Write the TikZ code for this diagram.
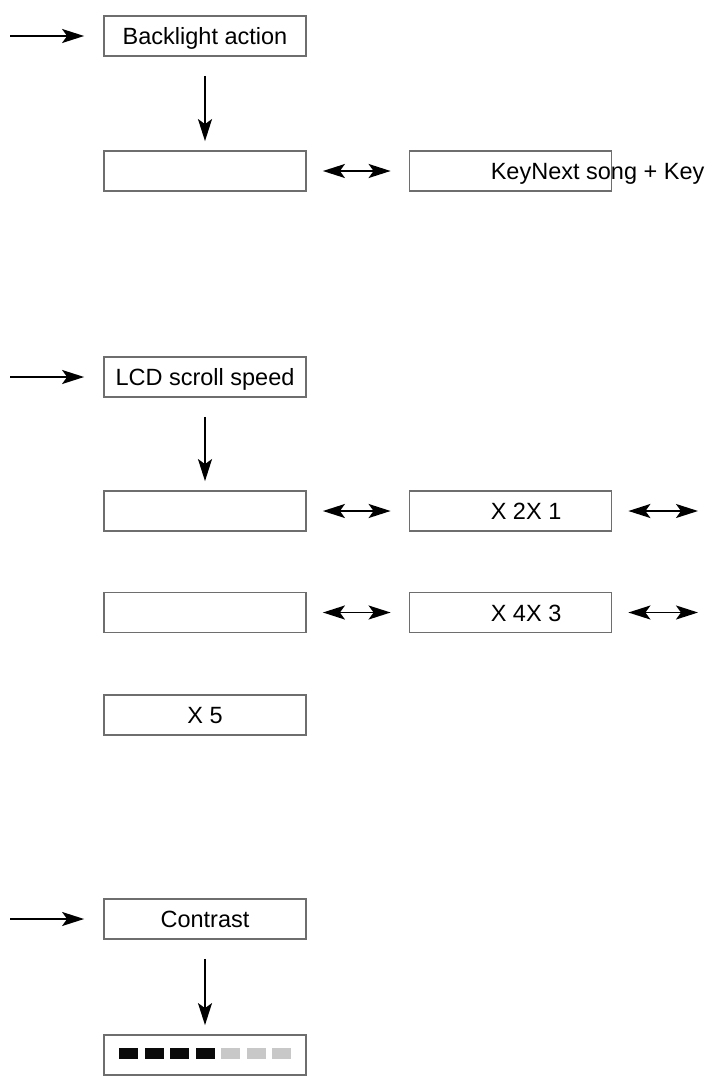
\documentclass[tikz,border=0pt]{standalone}
\usepackage{fontspec}
\setmainfont{Liberation Sans}
\usepackage{tikz}
\usetikzlibrary{arrows.meta, positioning, calc}
\definecolor{boxgray}{RGB}{110,110,110}
\definecolor{bargray}{RGB}{200,200,200}
\definecolor{bardark}{RGB}{10,10,10}
\tikzset{
  menubox/.style={rectangle, draw=boxgray, line width=1.8pt,
    minimum width=202pt, minimum height=40pt, inner sep=0pt,
    text height=17pt, text depth=0pt},
  boxtext/.style={anchor=west, inner sep=0pt,
    text height=17pt, text depth=0pt},
  seg/.style={rectangle, minimum width=19pt, minimum height=11pt, inner sep=0pt},
  arrow/.style={-{Stealth[length=22pt, width=14pt, inset=5pt]}, line width=1.9pt, color=black},
  dblarrow/.style={{Stealth[length=22pt, width=14pt, inset=5pt]}-{Stealth[length=22pt, width=14pt, inset=5pt]}, line width=1.9pt, color=black}
}

\begin{document}
\begin{tikzpicture}[x=1pt, y=-1pt, every node/.style={font=\fontsize{23.5}{27}\selectfont}]
  \useasboundingbox (0,0) rectangle (717,1082);

  % Backlight
  \coordinate (in1) at (10,36);
  \node[menubox] (back) at (205,36) {Backlight action};
  \node[menubox] (back1) at (205,171) {};
  \node[menubox] (back2) at (510.5,171) {};
  \node[boxtext] (back2t) at ([xshift=82pt]back2.west) {KeyNext song + Key};
  \draw[arrow, shorten >=19pt] (in1) -- (back.west);
  \draw[arrow, shorten <=19pt, shorten >=9pt] (back.south) -- (back1.north);
  \draw[dblarrow, shorten <=16pt, shorten >=18pt] (back1.east) -- (back2.west);

  % LCD scroll speed
  \coordinate (in2) at (10,377);
  \node[menubox] (lcd) at (205,377) {LCD scroll speed};
  \node[menubox] (lcd1) at (205,511) {};
  \node[menubox] (lcd2) at (510.5,511) {};
  \node[boxtext] (lcd2t) at ([xshift=82pt]lcd2.west) {X 2X 1};
  \node[menubox] (lcd3) at (205,612.5) {};
  \node[menubox] (lcd4) at (510.5,612.5) {};
  \node[boxtext] (lcd4t) at ([xshift=82pt]lcd4.west) {X 4X 3};
  \node[menubox] (lcd5) at (205,715) {X 5};
  \coordinate (out2) at (698,511);
  \coordinate (out4) at (698,612.5);
  \draw[arrow, shorten >=19pt] (in2) -- (lcd.west);
  \draw[arrow, shorten <=19pt, shorten >=9pt] (lcd.south) -- (lcd1.north);
  \draw[dblarrow, shorten <=16pt, shorten >=18pt] (lcd1.east) -- (lcd2.west);
  \draw[dblarrow, shorten <=16pt] (lcd2.east) -- (out2);
  \draw[dblarrow, shorten <=16pt, shorten >=18pt] (lcd3.east) -- (lcd4.west);
  \draw[dblarrow, shorten <=16pt] (lcd4.east) -- (out4);

  % Contrast
  \coordinate (in3) at (10,919);
  \node[menubox] (con) at (205,919) {Contrast};
  \node[menubox] (bar) at (205,1055) {};
  \draw[arrow, shorten >=19pt] (in3) -- (con.west);
  \draw[arrow, shorten <=19pt, shorten >=9pt] (con.south) -- (bar.north);
  \foreach \i in {1,...,7} {
    \ifnum\i<5 \def\segcol{bardark}\else \def\segcol{bargray}\fi
    \node[seg, fill=\segcol] (s\i) at ($(bar.center)+({(\i-4)*25.5},-1.5)$) {};
  }
\end{tikzpicture}
\end{document}
